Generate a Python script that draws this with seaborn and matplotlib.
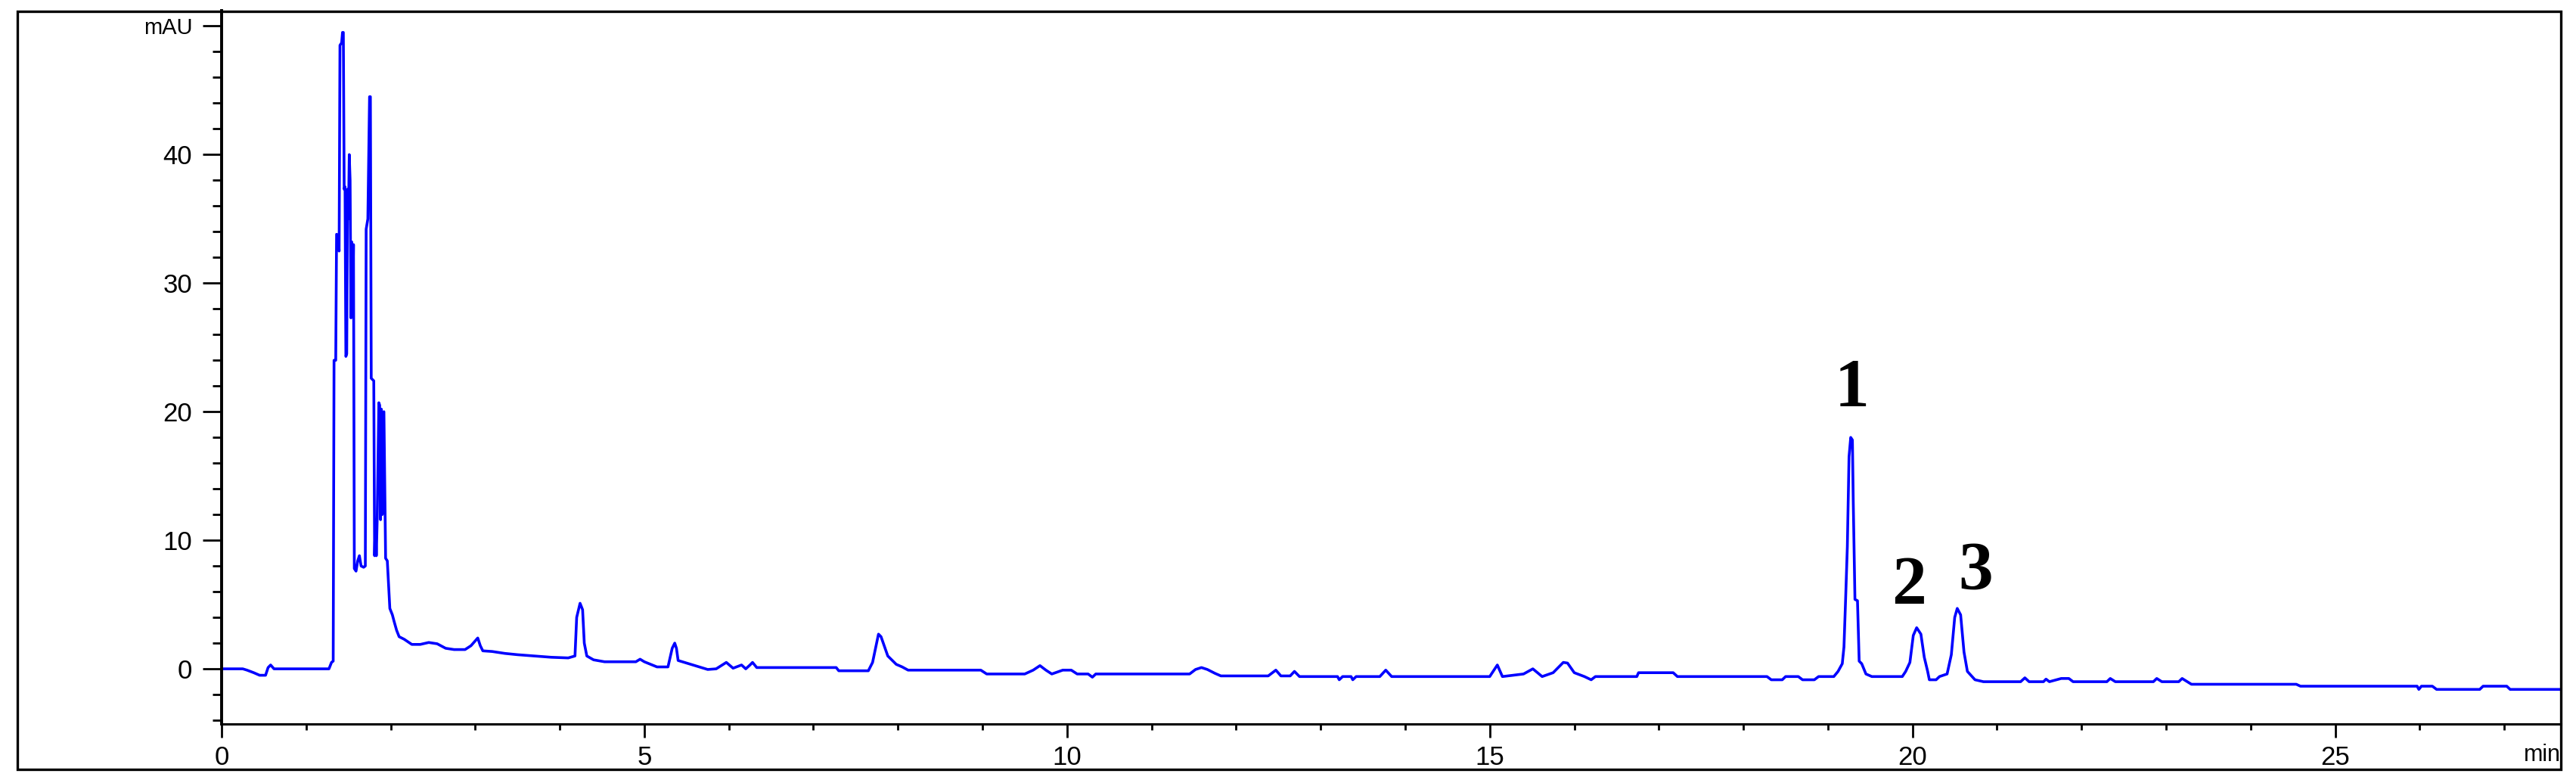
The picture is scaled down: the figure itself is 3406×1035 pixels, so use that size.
import numpy as np
import pandas as pd
import matplotlib
matplotlib.use("Agg")
import matplotlib.pyplot as plt
from matplotlib.ticker import MultipleLocator, FixedLocator
from matplotlib.patches import Rectangle
import seaborn as sns

#================================資料===============================
time_min = [
    0.00, 0.25, 0.30, 0.38, 0.45, 0.52, 0.55, 0.58, 0.62, 0.70, 1.27, 1.30, 1.32,
    1.33, 1.35, 1.36, 1.38, 1.39, 1.40, 1.42, 1.43, 1.44, 1.45, 1.46, 1.47, 1.48,
    1.49, 1.50, 1.51, 1.52, 1.53, 1.54, 1.55, 1.56, 1.57, 1.59, 1.61, 1.63, 1.65,
    1.68, 1.70, 1.71, 1.73, 1.75, 1.76, 1.77, 1.80, 1.81, 1.82, 1.83, 1.84, 1.86,
    1.87, 1.88, 1.89, 1.90, 1.92, 1.94, 1.96, 1.99, 2.02, 2.04, 2.07, 2.10, 2.16,
    2.25, 2.35, 2.45, 2.55, 2.65, 2.75, 2.88, 2.95, 3.03, 3.06, 3.09, 3.20, 3.35,
    3.50, 3.70, 3.90, 4.10, 4.18, 4.20, 4.24, 4.27, 4.29, 4.32, 4.40, 4.53, 4.90,
    4.95, 5.00, 5.15, 5.28, 5.33, 5.36, 5.38, 5.40, 5.50, 5.60, 5.75, 5.85, 5.97,
    6.05, 6.15, 6.20, 6.25, 6.28, 6.33, 7.27, 7.30, 7.65, 7.70, 7.77, 7.80, 7.88,
    7.98, 8.05, 8.12, 8.98, 9.05, 9.50, 9.60, 9.68, 9.75, 9.82, 9.95, 10.05, 10.12,
    10.25, 10.30, 10.34, 11.45, 11.52, 11.59, 11.66, 11.75, 11.82, 12.38, 12.47,
    12.53, 12.64, 12.69, 12.75, 13.20, 13.22, 13.26, 13.36, 13.38, 13.42, 13.70,
    13.77, 13.84, 15.00, 15.09, 15.15, 15.40, 15.51, 15.62, 15.75, 15.87, 15.92,
    16.00, 16.12, 16.20, 16.25, 16.74, 16.76, 17.17, 17.22, 18.28, 18.33, 18.46,
    18.50, 18.65, 18.70, 18.84, 18.89, 19.07, 19.12, 19.17, 19.19, 19.21, 19.23,
    19.25, 19.27, 19.29, 19.30, 19.32, 19.35, 19.37, 19.40, 19.45, 19.52, 19.88,
    19.92, 19.97, 20.01, 20.05, 20.10, 20.14, 20.18, 20.20, 20.28, 20.32, 20.41,
    20.46, 20.50, 20.53, 20.57, 20.61, 20.65, 20.74, 20.84, 21.28, 21.33, 21.38,
    21.55, 21.58, 21.62, 21.76, 21.85, 21.90, 22.30, 22.34, 22.40, 22.85, 22.89,
    22.95, 23.15, 23.19, 23.30, 24.54, 24.59, 25.97, 25.99, 26.02, 26.15, 26.20,
    26.71, 26.75, 27.03, 27.07, 27.70,
]
signal_mau = [
    0.0, 0.0, -0.1, -0.3, -0.5, -0.5, 0.1, 0.3, 0.0, 0.0, 0.0, 0.5, 0.6,
    24.0, 24.0, 33.8, 33.7, 32.5, 48.5, 48.7, 49.5, 49.5, 37.3, 37.5, 24.3, 24.5,
    37.3, 35.0, 40.0, 38.0, 27.3, 33.2, 27.5, 33.0, 7.8, 7.6, 8.4, 8.8, 8.0,
    7.9, 8.0, 34.2, 35.0, 44.5, 44.5, 22.6, 22.4, 8.8, 11.6, 8.8, 11.5, 20.7,
    20.5, 11.6, 20.2, 12.0, 20.0, 8.6, 8.4, 4.7, 4.2, 3.7, 3.0, 2.5, 2.3,
    1.9, 1.9, 2.05, 1.95, 1.6, 1.5, 1.5, 1.8, 2.4, 1.8, 1.4, 1.35, 1.2,
    1.1, 1.0, 0.9, 0.85, 1.0, 4.0, 5.1, 4.6, 2.0, 1.0, 0.7, 0.55, 0.55,
    0.75, 0.55, 0.15, 0.15, 1.6, 2.0, 1.6, 0.65, 0.45, 0.25, -0.05, 0.0, 0.5,
    0.05, 0.3, 0.0, 0.3, 0.5, 0.1, 0.1, -0.15, -0.15, 0.5, 2.7, 2.5, 1.0,
    0.35, 0.15, -0.1, -0.1, -0.4, -0.4, -0.1, 0.25, -0.1, -0.4, -0.1, -0.1, -0.4,
    -0.4, -0.65, -0.4, -0.4, -0.05, 0.1, -0.05, -0.35, -0.55, -0.55, -0.1,
    -0.55, -0.55, -0.2, -0.6, -0.6, -0.85, -0.6, -0.6, -0.85, -0.6, -0.6,
    -0.1, -0.6, -0.6, 0.3, -0.6, -0.4, 0.0, -0.6, -0.3, 0.5, 0.45,
    -0.3, -0.6, -0.85, -0.6, -0.6, -0.3, -0.3, -0.6, -0.6, -0.85, -0.85,
    -0.6, -0.6, -0.85, -0.85, -0.6, -0.6, -0.2, 0.4, 1.7, 5.5, 9.5,
    16.5, 18.0, 17.8, 13.0, 5.4, 5.3, 0.6, 0.4, -0.4, -0.6, -0.6,
    -0.2, 0.5, 2.6, 3.2, 2.7, 0.9, -0.2, -0.85, -0.85, -0.6, -0.4,
    1.1, 4.0, 4.7, 4.2, 1.3, -0.2, -0.85, -1.0, -1.0, -0.7, -1.0,
    -1.0, -0.8, -1.0, -0.75, -0.75, -1.0, -1.0, -0.75, -1.0, -1.0, -0.75,
    -1.0, -1.0, -0.75, -1.2, -1.2, -1.35, -1.35, -1.6, -1.35, -1.35, -1.6,
    -1.6, -1.35, -1.35, -1.6, -1.6,
]

peak_names = ["1", "2", "3"]
peak_label_x = [19.28, 19.96, 20.75]
peak_label_y = [21.7, 6.35, 7.5]

x_ticks = [0, 5, 10, 15, 20, 25]
x_tick_labels = ["0", "5", "10", "15", "20", "25"]
y_ticks = [0, 10, 20, 30, 40, 50]
y_tick_labels = ["0", "10", "20", "30", "40", "mAU"]
#===============================================================================

df = pd.DataFrame({"time": time_min, "mAU": signal_mau})

sns.set_style("white")
plt.rcParams['font.family'] = ['Liberation Sans', 'DejaVu Sans']
plt.rcParams['text.color'] = 'black'
plt.rcParams['xtick.color'] = 'black'
plt.rcParams['ytick.color'] = 'black'

W, H = 3406, 1035
fig = plt.figure(figsize=(W / 100, H / 100), dpi=100)
ax = fig.add_axes([293 / W, 1 - 957 / H, (3386 - 293) / W, (957 - 14) / H])

sns.lineplot(data=df, x="time", y="mAU", ax=ax, color="#0000ff",
             linewidth=2.6, sort=False, estimator=None)

ax.set_xlim(0, 27.67)
ax.set_ylim(-4.29, 51.2)
ax.set_xlabel("")
ax.set_ylabel("")

# 刻度
ax.xaxis.set_major_locator(FixedLocator(x_ticks))
ax.set_xticklabels(x_tick_labels)
ax.xaxis.set_minor_locator(MultipleLocator(1))
ax.yaxis.set_major_locator(FixedLocator(y_ticks))
ax.set_yticklabels(y_tick_labels)
ax.yaxis.set_minor_locator(MultipleLocator(2))

ax.tick_params(axis="x", which="major", direction="out", length=13, width=2,
               labelsize=25, pad=7, bottom=True, colors="black")
ax.tick_params(axis="x", which="minor", direction="out", length=6, width=2,
               bottom=True, colors="black")
ax.tick_params(axis="y", which="major", direction="out", length=18, width=2,
               labelsize=25, pad=10, left=True, colors="black")
ax.tick_params(axis="y", which="minor", direction="out", length=8.5, width=2,
               left=True, colors="black")
for lab in ax.get_yticklabels():
    if lab.get_text() == "mAU":
        lab.set_fontsize(21)

for side in ["top", "right"]:
    ax.spines[side].set_visible(False)
ax.spines["left"].set_linewidth(2.8)
ax.spines["bottom"].set_linewidth(2.2)
for side in ["left", "bottom"]:
    ax.spines[side].set_color("black")

# 右下角 min
ax.text(27.67, -0.0435, "min", transform=ax.get_xaxis_transform(),
        ha="right", va="center", fontsize=22, color="black")

# 峰編號
for name, px, py in zip(peak_names, peak_label_x, peak_label_y):
    ax.text(px, py, name, ha="center", va="center", fontsize=66, color="black",
            fontweight="bold", family=["Liberation Serif", "DejaVu Serif"])

# 外框
fig.patches.append(Rectangle((23 / W, 1 - 1017 / H), (3386 - 23) / W, (1017 - 15) / H,
                             transform=fig.transFigure, fill=False,
                             edgecolor="black", linewidth=2.4))

fig.savefig("out.png", dpi=100)
plt.close()
